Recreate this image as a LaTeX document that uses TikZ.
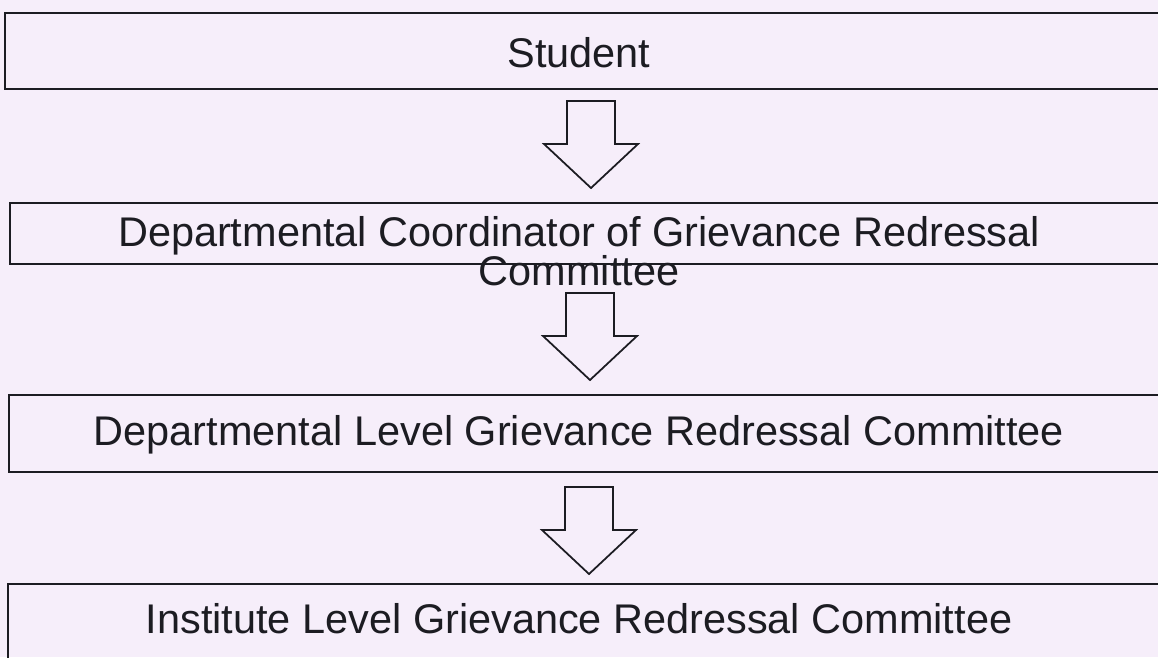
\documentclass[tikz,border=0pt]{standalone}
\usepackage{fontspec}
\setmainfont{Liberation Sans}
\definecolor{papir}{RGB}{246,238,250}
\definecolor{tinta}{RGB}{28,28,34}
\tikzset{
    doboz/.style = {draw = tinta, line width = 1.1pt},
    felirat/.style = {text = tinta, inner sep = 0pt, align = center, anchor = base,
        font = \fontsize{23.6pt}{22pt}\selectfont},
    nyil/.style = {draw = tinta, line width = 1pt, line join = miter}
}
\begin{document}
\begin{tikzpicture}[x = 0.02cm, y = -0.02cm]
    \path[use as bounding box, fill = papir] (0,0) rectangle (1158,657);
    \clip (0,0) rectangle (1158,657);
    %a dobozok jobbra kilognak a lapról
    \foreach \f/\a/\b in {5/13/89, 10/203/264, 9/395/472, 8/584/690}{
        \draw[doboz] (\f,\a) rectangle (1190,\b);
    }
    \foreach \t/\c in {101/591, 293/590, 487/589}{
        \draw[nyil] (\c-24,\t) -- (\c+24,\t) -- (\c+24,\t+43) -- (\c+47,\t+43)
            -- (\c,\t+87) -- (\c-47,\t+43) -- (\c-24,\t+43) -- cycle;
    }
    \node[felirat] (student) at (579,67) {Student};
    %itt a base az utolsó sor alapvonala
    \node[felirat] (coord) at (579,285) {Departmental Coordinator of Grievance Redressal\\Committee};
    \node[felirat] (dept) at (579,445) {Departmental Level Grievance Redressal Committee};
    \node[felirat] (inst) at (579,633) {Institute Level Grievance Redressal Committee};
\end{tikzpicture}
\end{document}
